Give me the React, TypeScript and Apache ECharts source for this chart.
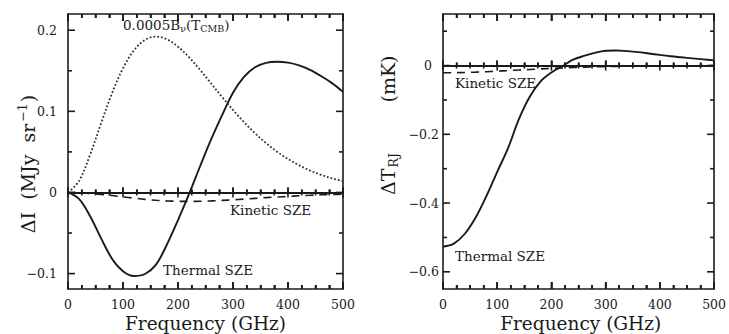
import { useEffect, useRef } from "react";
import * as echarts from "echarts";

// Frequency grid (GHz)
const FREQ = [0, 20, 40, 60, 80, 100, 120, 140, 160, 180, 200, 220, 240, 260, 280, 300, 320, 340, 360, 380, 400, 420, 440, 460, 480, 500];

// Intensity panel, ΔI in MJy sr^-1
const THERMAL_DI = [0, -0.008, -0.029, -0.0563, -0.0816, -0.097, -0.103, -0.1005, -0.089, -0.064, -0.034, -0.002, 0.032, 0.065, 0.095, 0.123, 0.1425, 0.1544, 0.1598, 0.1612, 0.16, 0.1567, 0.1512, 0.1436, 0.1348, 0.124];
const KINETIC_DI = [0, -0.0003, -0.0011, -0.0023, -0.0038, -0.0054, -0.007, -0.0085, -0.0096, -0.0104, -0.0109, -0.011, -0.0108, -0.0104, -0.0098, -0.009, -0.0082, -0.0073, -0.0064, -0.0056, -0.0049, -0.0041, -0.0035, -0.0029, -0.0025, -0.002];
const CMB_SCALED = [0, 0.014, 0.0462, 0.085, 0.1223, 0.1532, 0.1753, 0.1881, 0.1921, 0.1888, 0.1797, 0.1667, 0.1512, 0.1346, 0.1178, 0.1017, 0.0867, 0.073, 0.0609, 0.0503, 0.0413, 0.0336, 0.0271, 0.0218, 0.0174, 0.0138];

// Temperature panel, ΔT_RJ in mK
const THERMAL_DT = [-0.527, -0.518, -0.49, -0.443, -0.38, -0.309, -0.24, -0.156, -0.091, -0.046, -0.02, -0.002, 0.017, 0.028, 0.037, 0.043, 0.044, 0.042, 0.039, 0.035, 0.031, 0.027, 0.024, 0.021, 0.018, 0.015];
const KINETIC_DT = [-0.021, -0.0208, -0.0202, -0.0192, -0.0179, -0.0163, -0.0147, -0.013, -0.0113, -0.0097, -0.0082, -0.0068, -0.0056, -0.0046, -0.0037, -0.003, -0.0024, -0.0019, -0.0015, -0.0012, -0.0009, -0.0007, -0.0005, -0.0004, -0.0003, -0.0003];

// Axis ranges and tick positions
const X_RANGE = [0, 500];
const X_MAJOR = [0, 100, 200, 300, 400, 500];
const X_MINOR = [25, 50, 75, 125, 150, 175, 225, 250, 275, 325, 350, 375, 425, 450, 475];
const DI_RANGE = [-0.119, 0.22];
const DI_MAJOR = [-0.1, 0, 0.1, 0.2];
const DI_MINOR = [-0.05, 0.05, 0.15];
const DT_RANGE = [-0.65, 0.15];
const DT_MAJOR = [-0.6, -0.4, -0.2, 0];
const DT_MINOR = [-0.5, -0.3, -0.1, 0.1];

const INK = "#1a1a1a";
const SERIF = '"DejaVu Serif", serif';
const MAJOR_LEN = 7;
const MINOR_LEN = 4;
const TICK_W = 1.6;

const pairs = (ys: number[]) => FREQ.map((f, i) => [f, ys[i]]);
const fmtY = (v: number) => (v === 0 ? "{z|0}" : String(v).replace("-", "\u2212"));

function frameX(gridIndex: number, position: "top" | "bottom", labels: boolean) {
  return {
    type: "value",
    gridIndex,
    position,
    min: X_RANGE[0],
    max: X_RANGE[1],
    interval: 100,
    axisLine: { show: true, onZero: false, lineStyle: { color: INK, width: 1.6 } },
    axisTick: { show: true, inside: true, length: MAJOR_LEN, lineStyle: { color: INK, width: TICK_W } },
    minorTick: { show: true, splitNumber: 4, length: MINOR_LEN, lineStyle: { color: INK, width: TICK_W } },
    splitLine: { show: false },
    axisLabel: { show: labels, margin: 9, color: INK, fontFamily: SERIF, fontSize: 12.5 },
  };
}

// Horizontal line through zero
function zeroX(gridIndex: number, yIndex: number) {
  return {
    type: "value",
    gridIndex,
    position: "bottom",
    min: X_RANGE[0],
    max: X_RANGE[1],
    interval: 100,
    axisLine: { show: true, onZero: true, onZeroAxisIndex: yIndex, lineStyle: { color: INK, width: 1.8 } },
    axisTick: { show: true, inside: true, length: 5, lineStyle: { color: INK, width: TICK_W } },
    minorTick: { show: true, splitNumber: 4, length: 3, lineStyle: { color: INK, width: TICK_W } },
    splitLine: { show: false },
    axisLabel: { show: false },
  };
}

function frameY(gridIndex: number, position: "left" | "right", range: number[], labels: number[] | null, margin: number) {
  return {
    type: "value",
    gridIndex,
    position,
    min: range[0],
    max: range[1],
    axisLine: { show: true, onZero: false, lineStyle: { color: INK, width: 1.6 } },
    axisTick: { show: false },
    splitLine: { show: false },
    axisLabel: labels
      ? {
          show: true,
          customValues: labels,
          margin,
          color: INK,
          fontFamily: SERIF,
          fontSize: 12.5,
          formatter: fmtY,
          rich: { z: { fontFamily: SERIF, fontSize: 12.5, color: INK, padding: [0, margin < 8 ? 7 : 0, 0, 0] } },
        }
      : { show: false },
  };
}

// Tick segments: [x, y, dx1, dy1, dx2, dy2] — anchor in data units, ends in pixels
function tickSegments(yRange: number[], yMajor: number[], yMinor: number[]) {
  const out: number[][] = [];
  const [y0, y1] = yRange;
  X_MAJOR.forEach((f) => {
    out.push([f, y0, 0, 0, 0, -MAJOR_LEN]);
    out.push([f, y1, 0, 0, 0, MAJOR_LEN]);
    out.push([f, 0, 0, -5, 0, 5]);
  });
  X_MINOR.forEach((f) => {
    out.push([f, y0, 0, 0, 0, -MINOR_LEN]);
    out.push([f, y1, 0, 0, 0, MINOR_LEN]);
    out.push([f, 0, 0, -3, 0, 3]);
  });
  yMajor.forEach((v) => {
    out.push([X_RANGE[0], v, 0, 0, MAJOR_LEN, 0]);
    out.push([X_RANGE[1], v, 0, 0, -MAJOR_LEN, 0]);
  });
  yMinor.forEach((v) => {
    out.push([X_RANGE[0], v, 0, 0, MINOR_LEN, 0]);
    out.push([X_RANGE[1], v, 0, 0, -MINOR_LEN, 0]);
  });
  return out;
}

function ticks(xIdx: number, yIdx: number, data: number[][]) {
  return {
    type: "custom",
    xAxisIndex: xIdx,
    yAxisIndex: yIdx,
    clip: false,
    data,
    renderItem: (_params: any, api: any) => {
      const p = api.coord([api.value(0), api.value(1)]);
      return {
        type: "line",
        shape: {
          x1: p[0] + api.value(2),
          y1: p[1] + api.value(3),
          x2: p[0] + api.value(4),
          y2: p[1] + api.value(5),
        },
        style: { stroke: INK, lineWidth: TICK_W },
      };
    },
  };
}

const line = (name: string, xIdx: number, yIdx: number, ys: number[], style: any) => ({
  name,
  type: "line",
  xAxisIndex: xIdx,
  yAxisIndex: yIdx,
  data: pairs(ys),
  smooth: 0.35,
  showSymbol: false,
  lineStyle: { color: INK, ...style },
});

function label(x: number, y: number, str: string, font: string, align = "left", rich?: any, rotation = 0) {
  const style: any = { text: str, fill: INK, font, align, verticalAlign: "middle" };
  if (rich) style.rich = rich;
  return { type: "text", x, y, rotation, style };
}

const option: any = {
  animation: false,
  grid: [
    { left: 68, top: 14, width: 275, height: 275 },
    { left: 443, top: 14, width: 275.5, height: 275 },
  ],
  xAxis: [
    frameX(0, "bottom", true),
    frameX(0, "top", false),
    zeroX(0, 0),
    frameX(1, "bottom", true),
    frameX(1, "top", false),
    zeroX(1, 2),
  ],
  yAxis: [
    frameY(0, "left", DI_RANGE, DI_MAJOR, 11),
    frameY(0, "right", DI_RANGE, null, 8),
    frameY(1, "left", DT_RANGE, DT_MAJOR, 4),
    frameY(1, "right", DT_RANGE, null, 8),
  ],
  series: [
    line("Thermal SZE", 0, 0, THERMAL_DI, { width: 1.9 }),
    line("0.0005 B_nu(T_CMB)", 0, 0, CMB_SCALED, { color: "#333", width: 1.8, type: [1.8, 2.0] }),
    line("Kinetic SZE", 0, 0, KINETIC_DI, { width: 1.6, type: [8, 6] }),
    line("Thermal SZE (RJ)", 3, 2, THERMAL_DT, { width: 1.9 }),
    line("Kinetic SZE (RJ)", 3, 2, KINETIC_DT, { width: 1.6, type: [8, 6] }),
    ticks(0, 0, tickSegments(DI_RANGE, DI_MAJOR, DI_MINOR)),
    ticks(3, 2, tickSegments(DT_RANGE, DT_MAJOR, DT_MINOR)),
  ],
  graphic: [
    label(205.5, 323, "Frequency (GHz)", `18.5px ${SERIF}`, "center"),
    label(580.7, 323, "Frequency (GHz)", `18.5px ${SERIF}`, "center"),
    label(28, 164, "{n|\u0394I  (MJy  sr}{sup|\u22121}{n|)}", `19px ${SERIF}`, "center", {
      n: { fontSize: 19, fontFamily: SERIF, color: INK },
      sup: { fontSize: 12.5, fontFamily: SERIF, color: INK, padding: [0, 1, 11, 2] },
    }, Math.PI / 2),
    label(388, 174, "{n|\u0394T}{sub|RJ}", `19px ${SERIF}`, "center", {
      n: { fontSize: 19, fontFamily: SERIF, color: INK },
      sub: { fontSize: 12.5, fontFamily: SERIF, color: INK, padding: [11, 0, 0, 1] },
    }, Math.PI / 2),
    label(388, 79, "(mK)", `19px ${SERIF}`, "center", undefined, Math.PI / 2),
    label(123, 25, "{n|0.0005B}{s|\u03bd}{n|(T}{s|CMB}{n|)}", `13.5px ${SERIF}`, "left", {
      n: { fontSize: 13.5, fontFamily: SERIF, color: INK },
      s: { fontSize: 9.5, fontFamily: SERIF, color: INK, padding: [7, 0, 0, 0] },
    }),
    label(230, 210, "Kinetic SZE", `13.5px ${SERIF}`),
    label(163, 270, "Thermal SZE", `13.5px ${SERIF}`),
    label(455, 83, "Kinetic SZE", `13.5px ${SERIF}`),
    label(455, 256, "Thermal SZE", `13.5px ${SERIF}`),
  ],
};

export default function App() {
  const ref = useRef<HTMLDivElement>(null);
  useEffect(() => {
    const chart = echarts.init(ref.current!, null, { renderer: "svg" });
    chart.setOption(option);
    return () => chart.dispose();
  }, []);
  return (
    <div
      ref={ref}
      style={{ position: "fixed", left: 0, top: 0, width: 729, height: 334, background: "#fff" }}
    />
  );
}
